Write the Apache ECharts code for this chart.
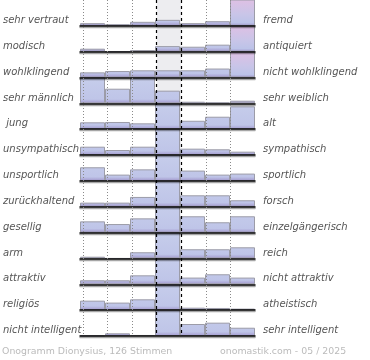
<!DOCTYPE html>
<html><head><meta charset="utf-8">
<script src="https://cdn.jsdelivr.net/npm/echarts@6/dist/echarts.min.js"></script>
<style>html,body{margin:0;padding:0;background:#fff}#c{width:370px;height:360px}</style>
</head><body><div id="c"></div>
<script>
const leftLabels = ['sehr vertraut','modisch','wohlklingend','sehr männlich',' jung','unsympathisch','unsportlich','zurückhaltend','gesellig','arm','attraktiv','religiös','nicht intelligent'];
const rightLabels = ['fremd','antiquiert','nicht wohlklingend','sehr weiblich','alt','sympathisch','sportlich','forsch','einzelgängerisch','reich','nicht attraktiv','atheistisch','sehr intelligent'];
const steps = ['1','2','3','4','5','6','7'];
// share of votes (%) per step, one array per word pair
const vertrautFremd      = [2.6, 1.6, 3.9, 5.8, 2.6, 4.5, 79];
const modischAntiquiert  = [2.9, 0, 1.6, 5.4, 4.8, 6.8, 78.5];
const wohlklingend       = [5.0, 6.3, 7.0, 7.0, 7.0, 8.7, 59];
const maennlichWeiblich  = [34, 14.2, 34.3, 12.3, 1.6, 1.0, 2.6];
const jungAlt            = [6.7, 7.0, 5.7, 38.2, 8.2, 12.1, 22.1];
const sympathisch        = [8.1, 4.9, 8.1, 63.8, 6.2, 5.6, 3.3];
const sportlich          = [13.2, 6.1, 11.2, 46.3, 10.0, 6.1, 7.1];
const zurueckForsch      = [4.0, 4.0, 9.5, 54, 11.1, 11.1, 6.3];
const geselligEinzel     = [10.9, 8.3, 13.8, 25.4, 15.8, 10.0, 15.8];
const armReich           = [1.7, 0, 6.0, 63.7, 8.9, 8.9, 10.8];
const attraktiv          = [3.9, 3.9, 8.7, 60.8, 6.5, 9.7, 6.5];
const religioesAtheist   = [9.2, 7.3, 10.5, 67, 2.4, 2.1, 1.5];
const intelligent        = [0.5, 2.6, 1.0, 63.4, 11.6, 12.9, 8.0];
const rows = [vertrautFremd, modischAntiquiert, wohlklingend, maennlichWeiblich, jungAlt, sympathisch, sportlich, zurueckForsch, geselligEinzel, armReich, attraktiv, religioesAtheist, intelligent];
const footerLeft = 'Onogramm Dionysius, 126 Stimmen';
const footerRight = 'onomastik.com - 05 / 2025';

const ROWMAX = 25;
const PL = 80, PW = 175, PT = 0, RH = 336 / 13;

const grids = [{left: PL, width: PW, top: PT, height: RH * 13}];
const xAxes = [{gridIndex: 0, type: 'value', min: 0, max: 7, show: false}];
const labelStyle = {fontFamily: 'DejaVu Sans', fontStyle: 'italic', fontSize: 10, color: '#555',
  verticalAlign: 'top', lineHeight: 15};
const yAxes = [
  {gridIndex: 0, type: 'category', data: leftLabels, inverse: true, position: 'left',
   axisLine: {show: false}, axisTick: {show: false}, splitLine: {show: false},
   axisLabel: Object.assign({align: 'left', margin: PL}, labelStyle)},
  {gridIndex: 0, type: 'category', data: rightLabels, inverse: true, position: 'right',
   axisLine: {show: false}, axisTick: {show: false}, splitLine: {show: false},
   axisLabel: Object.assign({align: 'left', margin: 8}, labelStyle)}
];
const series = [
  {type: 'line', xAxisIndex: 0, yAxisIndex: 0, data: [], z: 1, silent: true,
   markArea: {silent: true, itemStyle: {color: '#ededf0'}, data: [[{xAxis: 3}, {xAxis: 4}]]},
   markLine: {silent: true, symbol: 'none', label: {show: false},
     lineStyle: {color: '#8a8a8a', type: [1, 2], width: 1},
     data: [0, 1, 2, 5, 6].map(v => ({xAxis: v}))}},
  {type: 'line', xAxisIndex: 0, yAxisIndex: 0, data: [], z: 5, silent: true,
   markLine: {silent: true, symbol: 'none', label: {show: false},
     lineStyle: {color: '#000', type: [3, 3], width: 1.2},
     data: [3, 4].map(v => ({xAxis: v}))}}
];

rows.forEach((vals, i) => {
  const g = i + 1;
  const yi = i + 2;
  const top = PT + RH * i;
  grids.push({left: PL, width: PW, top: top, height: RH});
  xAxes.push({gridIndex: g, type: 'category', data: steps, boundaryGap: true,
    axisLine: {show: true, lineStyle: {color: '#000', width: 1.5, shadowColor: 'rgba(0,0,0,0.35)', shadowOffsetY: 1.5}},
    axisTick: {show: false}, axisLabel: {show: false}, splitLine: {show: false}, z: 4});
  yAxes.push({gridIndex: g, type: 'value', min: 0, max: ROWMAX, show: false, splitLine: {show: false}});
  const blue = {type: 'linear', x: 0, y: top, x2: 0, y2: top + RH, global: true,
    colorStops: [{offset: 0, color: '#c6cdeb'}, {offset: 0.84, color: '#bfc5e8'}, {offset: 1, color: '#a196cc'}]};
  const pink = {type: 'linear', x: 0, y: top, x2: 0, y2: top + RH, global: true,
    colorStops: [{offset: 0, color: '#dec0e4'}, {offset: 0.55, color: '#c9c5e8'}, {offset: 0.88, color: '#bcc3e8'}, {offset: 1, color: '#a196cc'}]};
  series.push({
    type: 'bar', xAxisIndex: g, yAxisIndex: yi, z: 2, clip: true,
    barCategoryGap: 0, barGap: 0, silent: true,
    data: vals.map((v, j) => ({value: v, itemStyle: {color: (v > 2 * ROWMAX && j !== 3) ? pink : blue}})),
    itemStyle: {borderColor: '#9c9ca8', borderWidth: 1}
  });
});

const chart = echarts.init(document.getElementById('c'), null, {renderer: 'canvas'});
chart.setOption({
  animation: false,
  backgroundColor: '#fff',
  title: [
    {text: footerLeft, left: 2, top: 347, padding: 0, textStyle: {fontFamily: 'DejaVu Sans', fontSize: 9.4, fontWeight: 'normal', color: '#bbb'}},
    {text: footerRight, left: 220, top: 347, padding: 0, textStyle: {fontFamily: 'DejaVu Sans', fontSize: 9.4, fontWeight: 'normal', color: '#bbb'}}
  ],
  grid: grids, xAxis: xAxes, yAxis: yAxes, series: series
});
</script></body></html>
